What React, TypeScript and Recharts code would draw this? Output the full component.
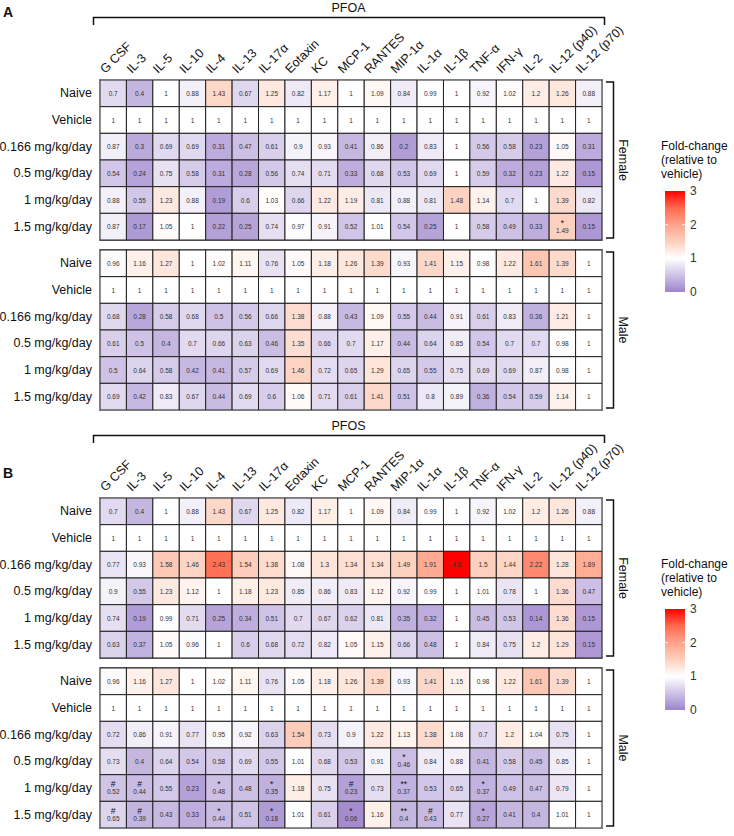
import { ScatterChart, Scatter, XAxis, YAxis, ReferenceArea } from 'recharts'

// Cytokines along the top, dose groups down the side
const cytokines = [
  'G CSF', 'IL-3', 'IL-5', 'IL-10', 'IL-4', 'IL-13', 'IL-17α', 'Eotaxin', 'KC', 'MCP-1',
  'RANTES', 'MIP-1α', 'IL-1α', 'IL-1β', 'TNF-α', 'IFN-γ', 'IL-2', 'IL-12 (p40)', 'IL-12 (p70)',
]
const doseGroups = ['Naive', 'Vehicle', '0.166 mg/kg/day', '0.5 mg/kg/day', '1 mg/kg/day', '1.5 mg/kg/day']

const pfoaFemale = [
  [0.7, 0.4, 1, 0.88, 1.43, 0.67, 1.25, 0.82, 1.17, 1, 1.09, 0.84, 0.99, 1, 0.92, 1.02, 1.2, 1.26, 0.88],
  [1, 1, 1, 1, 1, 1, 1, 1, 1, 1, 1, 1, 1, 1, 1, 1, 1, 1, 1],
  [0.87, 0.3, 0.69, 0.69, 0.31, 0.47, 0.61, 0.9, 0.93, 0.41, 0.86, 0.2, 0.83, 1, 0.56, 0.58, 0.23, 1.05, 0.31],
  [0.54, 0.24, 0.75, 0.58, 0.31, 0.28, 0.56, 0.74, 0.71, 0.33, 0.68, 0.53, 0.69, 1, 0.59, 0.32, 0.23, 1.22, 0.15],
  [0.88, 0.55, 1.23, 0.88, 0.19, 0.6, 1.03, 0.66, 1.22, 1.19, 0.81, 0.88, 0.81, 1.48, 1.14, 0.7, 1, 1.39, 0.82],
  [0.87, 0.17, 1.05, 1, 0.22, 0.25, 0.74, 0.97, 0.91, 0.52, 1.01, 0.54, 0.25, 1, 0.58, 0.49, 0.33, 1.49, 0.15],
]

const pfoaMale = [
  [0.96, 1.16, 1.27, 1, 1.02, 1.11, 0.76, 1.05, 1.18, 1.26, 1.39, 0.93, 1.41, 1.15, 0.98, 1.22, 1.61, 1.39, 1],
  [1, 1, 1, 1, 1, 1, 1, 1, 1, 1, 1, 1, 1, 1, 1, 1, 1, 1, 1],
  [0.68, 0.28, 0.58, 0.68, 0.5, 0.56, 0.66, 1.38, 0.88, 0.43, 1.09, 0.55, 0.44, 0.91, 0.61, 0.83, 0.36, 1.21, 1],
  [0.61, 0.5, 0.4, 0.7, 0.66, 0.63, 0.46, 1.35, 0.66, 0.7, 1.17, 0.44, 0.64, 0.85, 0.54, 0.7, 0.7, 0.98, 1],
  [0.5, 0.64, 0.58, 0.42, 0.41, 0.57, 0.69, 1.46, 0.72, 0.65, 1.29, 0.65, 0.55, 0.75, 0.69, 0.69, 0.87, 0.98, 1],
  [0.69, 0.42, 0.83, 0.67, 0.44, 0.69, 0.6, 1.06, 0.71, 0.61, 1.41, 0.51, 0.8, 0.89, 0.36, 0.54, 0.59, 1.14, 1],
]

const pfosFemale = [
  [0.7, 0.4, 1, 0.88, 1.43, 0.67, 1.25, 0.82, 1.17, 1, 1.09, 0.84, 0.99, 1, 0.92, 1.02, 1.2, 1.26, 0.88],
  [1, 1, 1, 1, 1, 1, 1, 1, 1, 1, 1, 1, 1, 1, 1, 1, 1, 1, 1],
  [0.77, 0.93, 1.58, 1.46, 2.43, 1.54, 1.38, 1.08, 1.3, 1.34, 1.34, 1.49, 1.91, 4.8, 1.5, 1.44, 2.22, 1.28, 1.89],
  [0.9, 0.55, 1.23, 1.12, 1, 1.18, 1.23, 0.85, 0.86, 0.83, 1.12, 0.92, 0.99, 1, 1.01, 0.78, 1, 1.36, 0.47],
  [0.74, 0.19, 0.99, 0.71, 0.25, 0.34, 0.51, 0.7, 0.67, 0.62, 0.81, 0.35, 0.32, 1, 0.45, 0.53, 0.14, 1.36, 0.15],
  [0.63, 0.37, 1.05, 0.96, 1, 0.6, 0.68, 0.72, 0.82, 1.05, 1.15, 0.66, 0.48, 1, 0.84, 0.75, 1.2, 1.29, 0.15],
]

const pfosMale = [
  [0.96, 1.16, 1.27, 1, 1.02, 1.11, 0.76, 1.05, 1.18, 1.26, 1.39, 0.93, 1.41, 1.15, 0.98, 1.22, 1.61, 1.39, 1],
  [1, 1, 1, 1, 1, 1, 1, 1, 1, 1, 1, 1, 1, 1, 1, 1, 1, 1, 1],
  [0.72, 0.86, 0.91, 0.77, 0.95, 0.92, 0.63, 1.54, 0.73, 0.9, 1.22, 1.13, 1.38, 1.08, 0.7, 1.2, 1.04, 0.75, 1],
  [0.73, 0.4, 0.64, 0.54, 0.58, 0.69, 0.55, 1.01, 0.68, 0.53, 0.91, 0.46, 0.84, 0.88, 0.41, 0.58, 0.45, 0.85, 1],
  [0.52, 0.44, 0.55, 0.23, 0.48, 0.48, 0.35, 1.18, 0.75, 0.23, 0.73, 0.37, 0.53, 0.65, 0.37, 0.49, 0.47, 0.79, 1],
  [0.65, 0.39, 0.43, 0.33, 0.44, 0.51, 0.18, 1.01, 0.61, 0.06, 1.16, 0.4, 0.43, 0.77, 0.27, 0.41, 0.4, 1.01, 1],
]

// significance marks: [row, column, symbol]
const pfoaFemaleMarks: [number, number, string][] = [[5, 17, '*']]
const pfoaMaleMarks: [number, number, string][] = []
const pfosFemaleMarks: [number, number, string][] = []
const pfosMaleMarks: [number, number, string][] = [
  [3, 11, '*'],
  [4, 0, '#'], [4, 1, '#'], [4, 4, '*'], [4, 6, '*'], [4, 9, '#'], [4, 11, '**'], [4, 14, '*'],
  [5, 0, '#'], [5, 1, '#'], [5, 4, '*'], [5, 6, '*'], [5, 9, '*'], [5, 11, '**'], [5, 12, '#'], [5, 14, '*'],
]

const legendTicks = [0, 1, 2, 3]

const FONT = '"Liberation Sans", Arial, Helvetica, sans-serif'
const PANEL_W = 734
const PANEL_H = 418
const PLOT_LEFT = 100
const PLOT_RIGHT = 602
const PLOT_TOP = 80
const PLOT_BOTTOM = 410
const MALE_OFFSET = 6.375
const Y_DOMAIN: [number, number] = [-0.5, MALE_OFFSET + 5.5]
const CELL_W = (PLOT_RIGHT - PLOT_LEFT) / cytokines.length
const CELL_H = (PLOT_BOTTOM - PLOT_TOP) / (Y_DOMAIN[1] - Y_DOMAIN[0])

const PURPLE = [158, 133, 204]
const RED_STOPS: [number, number[]][] = [
  [1, [255, 255, 255]],
  [1.5, [253, 208, 190]],
  [2, [255, 163, 138]],
  [2.5, [255, 105, 78]],
  [3, [255, 0, 0]],
]

function foldColor(v: number) {
  const mix = (a: number[], b: number[], t: number) =>
    `rgb(${a.map((c, i) => Math.round(c + (b[i] - c) * t)).join(',')})`
  if (v <= 1) {
    const t = Math.min(1, Math.max(0, 1 - v))
    return mix([255, 255, 255], PURPLE, t)
  }
  const c = Math.min(v, 3)
  for (let i = 1; i < RED_STOPS.length; i++) {
    const [v0, c0] = RED_STOPS[i - 1]
    const [v1, c1] = RED_STOPS[i]
    if (c <= v1) return mix(c0, c1, (c - v0) / (v1 - v0))
  }
  return 'rgb(255,0,0)'
}

function buildCells(female: number[][], male: number[][], fMarks: [number, number, string][], mMarks: [number, number, string][]) {
  const cells: { x: number; y: number; value: number; mark: string }[] = []
  const add = (rows: number[][], marks: [number, number, string][], offset: number) => {
    rows.forEach((row, r) =>
      row.forEach((value, c) => {
        const m = marks.find(([mr, mc]) => mr === r && mc === c)
        cells.push({ x: c, y: r + offset, value, mark: m ? m[2] : '' })
      })
    )
  }
  add(female, fMarks, 0)
  add(male, mMarks, MALE_OFFSET)
  return cells
}

const columnTicks = cytokines.map((_, i) => i)
const rowTicks = [...doseGroups.map((_, i) => i), ...doseGroups.map((_, i) => i + MALE_OFFSET)]

const ColumnTick = (props: any) => {
  const { x, payload } = props
  const ax = x - 8
  const ay = PLOT_TOP - 6
  return (
    <text x={ax} y={ay} transform={`rotate(-45 ${ax} ${ay})`} fontSize={12.5} fill="#111" fontFamily={FONT}>
      {cytokines[payload.value]}
    </text>
  )
}

const RowTick = (props: any) => {
  const { y, payload } = props
  const v = payload.value
  const idx = v < MALE_OFFSET ? v : Math.round(v - MALE_OFFSET)
  return (
    <text x={PLOT_LEFT - 8} y={y} dy={4} textAnchor="end" fontSize={12.5} fill="#111" fontFamily={FONT}>
      {doseGroups[idx]}
    </text>
  )
}

const HeatCell = (props: any) => {
  const { cx, cy, payload } = props
  if (cx == null || cy == null) return <g />
  const hasMark = payload.mark !== ''
  return (
    <g>
      <rect
        x={cx - CELL_W / 2}
        y={cy - CELL_H / 2}
        width={CELL_W}
        height={CELL_H}
        fill={foldColor(payload.value)}
        stroke="#222"
        strokeWidth={1}
      />
      {hasMark && (
        <text x={cx} y={cy - 1} textAnchor="middle" fontSize={8.5} fill="#111" fontFamily={FONT}>
          {payload.mark}
        </text>
      )}
      <text x={cx} y={hasMark ? cy + 6 : cy + 2.5} textAnchor="middle" fontSize={6.5} fill="#333" fontFamily={FONT}>
        {String(payload.value)}
      </text>
    </g>
  )
}

function HeatPanel({ cells }: { cells: ReturnType<typeof buildCells> }) {
  return (
    <ScatterChart
      width={PANEL_W}
      height={PANEL_H}
      margin={{ top: PLOT_TOP - 30, right: PANEL_W - PLOT_RIGHT, bottom: PANEL_H - PLOT_BOTTOM, left: 0 }}
    >
      <XAxis
        type="number"
        dataKey="x"
        orientation="top"
        height={30}
        domain={[-0.5, cytokines.length - 0.5]}
        allowDataOverflow
        ticks={columnTicks}
        interval={0}
        axisLine={false}
        tickLine={false}
        tick={<ColumnTick />}
      />
      <YAxis
        type="number"
        dataKey="y"
        width={PLOT_LEFT}
        reversed
        domain={Y_DOMAIN}
        allowDataOverflow
        ticks={rowTicks}
        interval={0}
        axisLine={false}
        tickLine={false}
        tick={<RowTick />}
      />
      <Scatter data={cells} shape={<HeatCell />} isAnimationActive={false} />
      <ReferenceArea x1={-0.5} x2={18.5} y1={-0.5} y2={5.5} fill="none" stroke="#7d7d7d" strokeWidth={2} ifOverflow="visible" />
      <ReferenceArea
        x1={-0.5}
        x2={18.5}
        y1={MALE_OFFSET - 0.5}
        y2={MALE_OFFSET + 5.5}
        fill="none"
        stroke="#7d7d7d"
        strokeWidth={2}
        ifOverflow="visible"
      />
    </ScatterChart>
  )
}

// titles, sex brackets and the colour key drawn over each panel
function PanelDecor({ top, letter, letterY, title }: { top: number; letter: string; letterY: number; title: string }) {
  const barTop = 191
  const barH = 101
  const yOf = (v: number) => barTop + barH - (v / 3) * barH
  const gid = `fold-${letter}`
  const stops = [0, 0.25, 0.5, 0.75, 1, 1.25, 1.5, 1.75, 2, 2.25, 2.5, 2.75, 3]
  return (
    <svg
      width={PANEL_W}
      height={PANEL_H}
      style={{ position: 'absolute', left: 0, top, pointerEvents: 'none' }}
      fontFamily={FONT}
    >
      <defs>
        <linearGradient id={gid} x1="0" y1="1" x2="0" y2="0">
          {stops.map(v => (
            <stop key={v} offset={v / 3} stopColor={foldColor(v)} />
          ))}
        </linearGradient>
      </defs>
      <text x={3} y={letterY} fontSize={14} fontWeight="bold" fill="#111">{letter}</text>
      <text x={(93 + 604) / 2} y={12} textAnchor="middle" fontSize={12.5} fill="#111">{title}</text>
      <path d="M93.5 25 V17.5 H604.5 V25" fill="none" stroke="#111" strokeWidth={1.5} />

      <path d="M606 82 H613.5 V238 H606" fill="none" stroke="#111" strokeWidth={1.5} />
      <text x={619} y={160} textAnchor="middle" fontSize={12.5} fill="#111" transform="rotate(90 619 160)">Female</text>
      <path d="M606 252 H613.5 V408 H606" fill="none" stroke="#111" strokeWidth={1.5} />
      <text x={619} y={330} textAnchor="middle" fontSize={12.5} fill="#111" transform="rotate(90 619 330)">Male</text>

      <text x={661} y={150} fontSize={12} fill="#111">Fold-change</text>
      <text x={661} y={164} fontSize={12} fill="#111">(relative to</text>
      <text x={661} y={178} fontSize={12} fill="#111">vehicle)</text>
      <rect x={665} y={barTop} width={20} height={barH} fill={`url(#${gid})`} />
      {legendTicks.map(v => (
        <g key={v}>
          {v > 0 && v < 3 && (
            <>
              <line x1={665} x2={668} y1={yOf(v)} y2={yOf(v)} stroke="#fff" strokeWidth={0.8} />
              <line x1={682} x2={685} y1={yOf(v)} y2={yOf(v)} stroke="#fff" strokeWidth={0.8} />
            </>
          )}
          <text x={690} y={yOf(v) + 4} fontSize={12} fill="#333">{v}</text>
        </g>
      ))}
    </svg>
  )
}

export default function App() {
  const pfoaCells = buildCells(pfoaFemale, pfoaMale, pfoaFemaleMarks, pfoaMaleMarks)
  const pfosCells = buildCells(pfosFemale, pfosMale, pfosFemaleMarks, pfosMaleMarks)
  return (
    <div
      style={{
        position: 'absolute',
        left: 0,
        top: 0,
        width: PANEL_W,
        height: 836,
        background: '#fff',
        fontFamily: FONT,
      }}
    >
      <div style={{ position: 'absolute', left: 0, top: 0 }}>
        <HeatPanel cells={pfoaCells} />
      </div>
      <div style={{ position: 'absolute', left: 0, top: PANEL_H }}>
        <HeatPanel cells={pfosCells} />
      </div>
      <PanelDecor top={0} letter="A" letterY={17} title="PFOA" />
      <PanelDecor top={PANEL_H} letter="B" letterY={60} title="PFOS" />
    </div>
  )
}
